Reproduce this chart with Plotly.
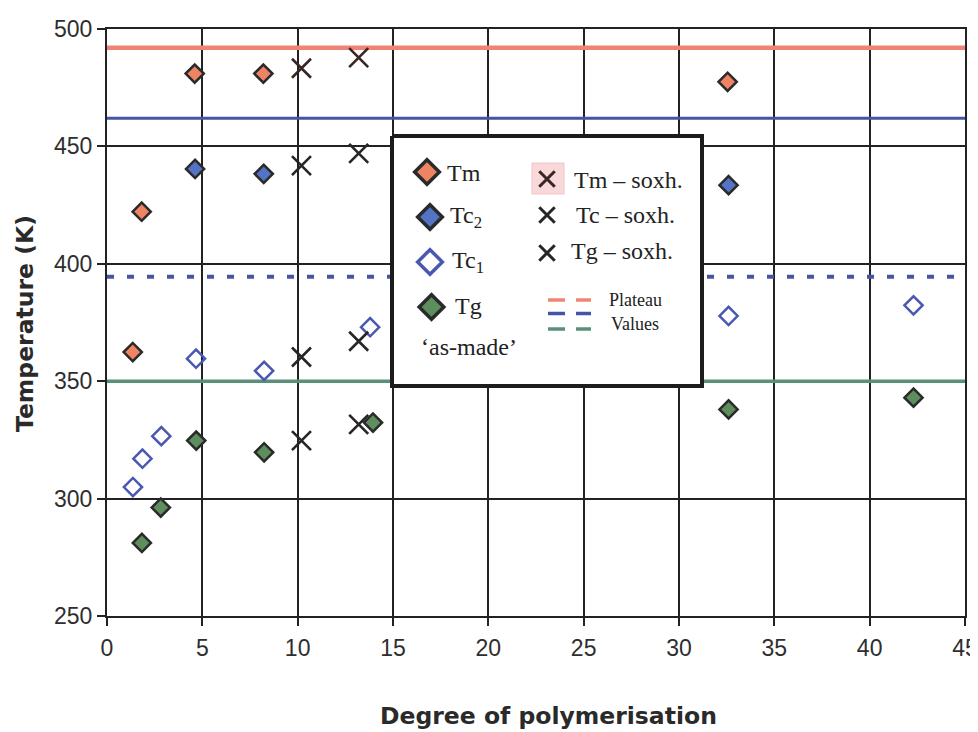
import plotly.graph_objects as go

# ---------------- data ----------------
dp_tm = [1.35, 1.82, 4.6, 8.2, 32.55]
tm = [362.4, 422.2, 481.0, 481.0, 477.5]

dp_tc2 = [4.62, 8.22, 32.6]
tc2 = [440.4, 438.3, 433.5]

dp_tc1 = [1.36, 1.86, 2.85, 4.67, 8.24, 13.8, 32.6, 42.3]
tc1 = [304.9, 317.0, 326.6, 359.6, 354.4, 373.0, 377.8, 382.3]

dp_tg = [1.83, 2.82, 4.68, 8.24, 13.95, 32.6, 42.3]
tg = [281.1, 296.2, 324.7, 319.7, 332.4, 338.0, 343.0]

dp_soxh = [10.2, 13.2]
tm_soxh = [483.3, 487.8]
tc2_soxh = [441.8, 447.0]
tc1_soxh = [360.3, 367.0]
tg_soxh = [324.7, 331.6]

plateau_x = [0, 45]
plateau_tm = 492.0
plateau_tc2 = 462.0
plateau_tc1 = 394.5
plateau_tg = 350.0

x_ticks = [0, 5, 10, 15, 20, 25, 30, 35, 40, 45]
y_ticks = [250, 300, 350, 400, 450, 500]

# ---------------- styles ----------------
C_TM = "#ee8464"
C_TC2 = "#5373c4"
C_TC1 = "#4a58b2"
C_TG = "#5e8e5e"
C_EDGE = "#2a2a2a"
C_RED = "#ef8476"
C_BLUE = "#4654a6"
C_GREEN = "#5b9078"
C_GRID = "#222222"
C_XTM = "#3a2424"
C_X = "#262626"

# plot area in page pixels (page body has an 8px margin)
W, H = 970, 724
PX0, PX1, PY0, PY1 = 107, 965, 29, 616

fig = go.Figure()

# plateau lines
fig.add_trace(go.Scatter(x=plateau_x, y=[plateau_tm] * 2, mode="lines",
                         line=dict(color=C_RED, width=4.5), hoverinfo="skip", showlegend=False))
fig.add_trace(go.Scatter(x=plateau_x, y=[plateau_tc2] * 2, mode="lines",
                         line=dict(color=C_BLUE, width=3), hoverinfo="skip", showlegend=False))
fig.add_trace(go.Scatter(x=plateau_x, y=[plateau_tc1] * 2, mode="lines",
                         line=dict(color=C_BLUE, width=4, dash="7px,13px"), hoverinfo="skip", showlegend=False))
fig.add_trace(go.Scatter(x=plateau_x, y=[plateau_tg] * 2, mode="lines",
                         line=dict(color=C_GREEN, width=3.5), hoverinfo="skip", showlegend=False))

def diamonds(x, y, fill):
    return go.Scatter(x=x, y=y, mode="markers", showlegend=False,
                      marker=dict(symbol="diamond", size=14, color=fill,
                                  line=dict(color=C_EDGE, width=2.5)))

fig.add_trace(diamonds(dp_tm, tm, C_TM))
fig.add_trace(diamonds(dp_tc2, tc2, C_TC2))
fig.add_trace(go.Scatter(x=dp_tc1, y=tc1, mode="markers", showlegend=False,
                         marker=dict(symbol="diamond-open", size=14, color=C_TC1,
                                     line=dict(color=C_TC1, width=2.5))))
fig.add_trace(diamonds(dp_tg, tg, C_TG))

def crosses(x, y, col):
    return go.Scatter(x=x, y=y, mode="markers", showlegend=False,
                      marker=dict(symbol="x-thin-open", size=19, color=col,
                                  line=dict(color=col, width=2.6)))

fig.add_trace(crosses(dp_soxh, tm_soxh, C_XTM))
fig.add_trace(crosses(dp_soxh, tc2_soxh, C_X))
fig.add_trace(crosses(dp_soxh, tc1_soxh, C_X))
fig.add_trace(crosses(dp_soxh, tg_soxh, C_X))

# ---------------- custom legend (overlay axis in page-pixel units) ----------------
LX, LY = "x2", "y2"
fig.add_trace(go.Scatter(x=[392, 702, 702, 392, 392], y=[136, 136, 386, 386, 136],
                         xaxis=LX, yaxis=LY, mode="lines", fill="toself", fillcolor="white",
                         line=dict(color="#1c1c1c", width=4), hoverinfo="skip", showlegend=False))
fig.add_trace(go.Scatter(x=[532, 564, 564, 532, 532], y=[163, 163, 194, 194, 163],
                         xaxis=LX, yaxis=LY, mode="lines", fill="toself", fillcolor="#f9d8da",
                         line=dict(color="#f3c4c7", width=1), hoverinfo="skip", showlegend=False))

leg_d = [(427, 172, C_TM, "diamond"), (430, 217, C_TC2, "diamond"),
         (430, 262, C_TC1, "diamond-open"), (431.5, 307, C_TG, "diamond")]
for x, y, c, s in leg_d:
    edge = C_EDGE if s == "diamond" else c
    fig.add_trace(go.Scatter(x=[x], y=[y], xaxis=LX, yaxis=LY, mode="markers",
                             marker=dict(symbol=s, size=19, color=c, line=dict(color=edge, width=3.5)),
                             hoverinfo="skip", showlegend=False))

for x, y, c in [(547, 179, C_XTM), (547, 215, C_X), (547, 253, C_X)]:
    fig.add_trace(go.Scatter(x=[x], y=[y], xaxis=LX, yaxis=LY, mode="markers",
                             marker=dict(symbol="x-thin-open", size=15.5, color=c,
                                         line=dict(color=c, width=3)),
                             hoverinfo="skip", showlegend=False))

for y, c in [(300, C_RED), (313.5, C_BLUE), (329, C_GREEN)]:
    fig.add_trace(go.Scatter(x=[548, 565, None, 576, 591], y=[y, y, None, y, y],
                             xaxis=LX, yaxis=LY, mode="lines", line=dict(color=c, width=3.5),
                             hoverinfo="skip", showlegend=False))

SERIF = "Liberation Serif, Times New Roman, serif"
leg_txt = [
    (445, 173, "Tm", 24), (448, 217, "Tc<sub>2</sub>", 24), (450, 262, "Tc<sub>1</sub>", 24),
    (453, 306, "Tg", 24), (419, 347, "‘as-made’", 24),
    (572, 180, "Tm – soxh.", 24), (574, 215, "Tc – soxh.", 24), (569, 251, "Tg – soxh.", 24),
    (607, 300, "Plateau", 18), (609, 324, "Values", 18),
]
annotations = []
for x, y, t, s in leg_txt:
    annotations.append(dict(x=x, y=y, xref=LX, yref=LY, text=t, showarrow=False,
                            xanchor="left", yanchor="middle",
                            font=dict(family=SERIF, size=s, color="#222")))

def to_paper(x, y):
    return (x - PX0) / (PX1 - PX0), (PY1 - y) / (PY1 - PY0)

TITLE_FONT = dict(family="DejaVu Sans, Arial, sans-serif", size=23.5, color="#2a2a2a", weight="bold")
tx, ty = to_paper(548, 716)
annotations.append(dict(x=tx, y=ty, xref="paper", yref="paper", text="Degree of polymerisation",
                        showarrow=False, xanchor="center", yanchor="middle", font=TITLE_FONT))
tx, ty = to_paper(25, 324)
annotations.append(dict(x=tx, y=ty, xref="paper", yref="paper", text="Temperature (K)", textangle=-90,
                        showarrow=False, xanchor="center", yanchor="middle", font=TITLE_FONT))

TICK_FONT = dict(family="Liberation Sans, Arial, sans-serif", size=23, color="#2e2e2e")
axis_common = dict(showgrid=True, gridcolor=C_GRID, gridwidth=1.8, showline=True, linecolor=C_GRID,
                   linewidth=2.2, mirror=True, ticks="outside", ticklen=8, tickwidth=2,
                   tickcolor=C_GRID, zeroline=False, tickfont=TICK_FONT, automargin=False)

fig.update_layout(
    width=W, height=H,
    margin=dict(l=PX0 - 8, r=8 + W - PX1, t=PY0 - 8, b=8 + H - PY1, autoexpand=False),
    paper_bgcolor="white", plot_bgcolor="white",
    showlegend=False,
    xaxis=dict(range=[0, 45], tickvals=x_ticks, ticklabelstandoff=2,
               ticklabeloverflow="allow", **axis_common),
    yaxis=dict(range=[250, 500], tickvals=y_ticks, **axis_common),
    xaxis2=dict(range=[PX0, PX1], overlaying="x", anchor="y2", visible=False, fixedrange=True),
    yaxis2=dict(range=[PY1, PY0], overlaying="y", anchor="x2", visible=False, fixedrange=True),
    annotations=annotations,
)

fig.write_html("out.html")
